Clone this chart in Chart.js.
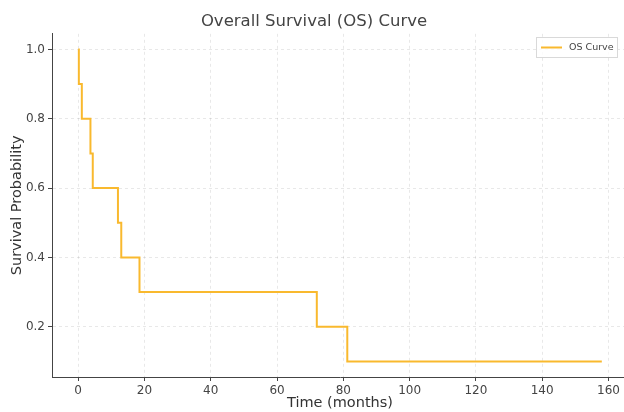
<!DOCTYPE html>
<html lang="en">
<head>
<meta charset="UTF-8">
<title>Overall Survival (OS) Curve</title>
<script src="https://cdn.jsdelivr.net/npm/chart.js"></script>
<style>
    html, body { margin: 0; padding: 0; background: #fff; overflow: hidden; }
    #wrap { width: 640px; height: 412px; }
</style>
</head>
<body>
<div id="wrap"><canvas id="mycanvas"></canvas></div>
<script>
// survival step points (time in months, probability)
const times = [0, 0.2, 1.1, 3.7, 4.4, 12, 13, 18.5, 72, 81.2, 158];
const survival = [1.0, 0.9, 0.8, 0.7, 0.6, 0.5, 0.4, 0.3, 0.2, 0.1, 0.1];
const xTicks = [0, 20, 40, 60, 80, 100, 120, 140, 160];
const yTicks = [0.2, 0.4, 0.6, 0.8, 1.0];

const lineColor = '#f9b92e';
const font = "'DejaVu Sans', sans-serif";

const points = times.map((t, i) => ({ x: t, y: survival[i] }));

// matplotlib-style legend inside the top right of the plot
const innerLegend = {
    id: 'innerLegend',
    afterDraw(chart) {
        const ctx = chart.ctx;
        const ds = chart.data.datasets[0];
        const left = 536, top = 37, w = 82, h = 21;
        ctx.save();
        ctx.fillStyle = 'rgba(255,255,255,0.8)';
        ctx.fillRect(left, top, w, h);
        ctx.strokeStyle = '#d9d9d9';
        ctx.lineWidth = 1;
        ctx.strokeRect(left + 0.5, top + 0.5, w - 1, h - 1);
        ctx.strokeStyle = ds.borderColor;
        ctx.lineWidth = 2;
        ctx.beginPath();
        ctx.moveTo(left + 5, top + 10.5);
        ctx.lineTo(left + 26, top + 10.5);
        ctx.stroke();
        ctx.fillStyle = '#444';
        ctx.font = '9.5px ' + font;
        ctx.textBaseline = 'middle';
        ctx.fillText(ds.label, left + 33, top + 11);
        ctx.restore();
    }
};

new Chart(document.getElementById('mycanvas'), {
    type: 'line',
    data: {
        datasets: [{
            label: 'OS Curve',
            data: points,
            borderColor: lineColor,
            backgroundColor: lineColor,
            borderWidth: 2,
            pointRadius: 0,
            stepped: true,
            fill: false
        }]
    },
    options: {
        responsive: true,
        maintainAspectRatio: false,
        animation: false,
        layout: { padding: { left: 0, right: 12, top: 0, bottom: 0 } },
        plugins: {
            title: {
                display: true,
                text: 'Overall Survival (OS) Curve',
                color: '#444',
                font: { family: font, size: 16.5, weight: 'normal' },
                padding: { top: 12, bottom: 2 }
            },
            legend: { display: false },
            tooltip: { enabled: false }
        },
        scales: {
            x: {
                type: 'linear',
                min: -7.9,
                max: 165.9,
                afterBuildTicks: s => { s.ticks = xTicks.map(v => ({ value: v })); },
                afterFit: s => { s.height = 35; },
                ticks: { color: '#444', font: { family: font, size: 12 }, padding: 3, maxRotation: 0 },
                grid: {
                    color: 'rgba(0,0,0,0.09)',
                    tickColor: '#444',
                    tickLength: 4,
                    tickBorderDash: []
                },
                border: { display: true, color: '#444', width: 1, dash: [3, 3] },
                title: {
                    display: true,
                    text: 'Time (months)',
                    color: '#333',
                    font: { family: font, size: 14.5 },
                    padding: { top: 0, bottom: 0 }
                }
            },
            y: {
                type: 'linear',
                min: 0.055,
                max: 1.045,
                afterBuildTicks: s => { s.ticks = yTicks.map(v => ({ value: v })); },
                afterFit: s => { s.width = 52; },
                ticks: {
                    color: '#444',
                    font: { family: font, size: 12 },
                    padding: 3,
                    callback: v => v.toFixed(1)
                },
                grid: {
                    color: 'rgba(0,0,0,0.09)',
                    tickColor: '#444',
                    tickLength: 4,
                    tickBorderDash: []
                },
                border: { display: true, color: '#444', width: 1, dash: [3, 3] },
                title: {
                    display: true,
                    text: 'Survival Probability',
                    color: '#333',
                    font: { family: font, size: 14.5 },
                    padding: { top: 9, bottom: 0 }
                }
            }
        }
    },
    plugins: [innerLegend]
});
</script>
</body>
</html>
